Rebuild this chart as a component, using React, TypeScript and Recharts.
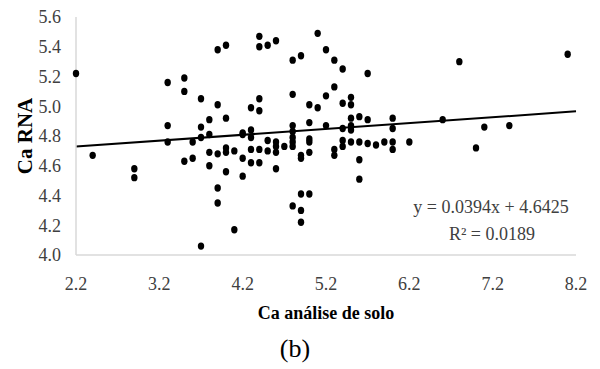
import { ScatterChart, Scatter, XAxis, YAxis, ReferenceLine } from 'recharts';

// Ca from soil analysis (x) and Ca estimated by RNA (y)
const soilCa = [
  2.2, 2.4, 2.9, 2.9,
  3.3, 3.3, 3.3, 3.5, 3.5, 3.5, 3.6, 3.6,
  3.7, 3.7, 3.7, 3.7, 3.8, 3.8, 3.8, 3.8,
  3.9, 3.9, 3.9, 3.9, 3.9, 4.0, 4.0, 4.0, 4.0, 4.0,
  4.1, 4.1, 4.2, 4.2, 4.2, 4.2,
  4.3, 4.3, 4.3, 4.3, 4.3, 4.4, 4.4, 4.4, 4.4, 4.4, 4.4,
  4.5, 4.5, 4.5, 4.6, 4.6, 4.6, 4.6, 4.6, 4.7,
  4.8, 4.8, 4.8, 4.8, 4.8, 4.8, 4.8, 4.8,
  4.9, 4.9, 4.9, 4.9, 4.9, 4.9,
  5.0, 5.0, 5.0, 5.0, 5.0, 5.0, 5.1, 5.1,
  5.2, 5.2, 5.2, 5.3, 5.3, 5.3, 5.3,
  5.4, 5.4, 5.4, 5.4, 5.4, 5.5, 5.5, 5.5, 5.5, 5.5, 5.5,
  5.6, 5.6, 5.6, 5.6, 5.7, 5.7, 5.7, 5.8, 5.9,
  6.0, 6.0, 6.0, 6.0, 6.2, 6.6, 6.8, 7.0, 7.1, 7.4, 8.1,
];
const rnaCa = [
  5.22, 4.67, 4.58, 4.52,
  5.16, 4.87, 4.76, 5.19, 5.10, 4.63, 4.76, 4.65,
  5.05, 4.86, 4.79, 4.06, 4.91, 4.81, 4.69, 4.60,
  5.38, 5.01, 4.68, 4.45, 4.35, 5.41, 4.92, 4.72, 4.69, 4.56,
  4.70, 4.17, 4.82, 4.81, 4.65, 4.53,
  4.99, 4.84, 4.79, 4.71, 4.62, 5.47, 5.40, 5.05, 4.97, 4.71, 4.62,
  5.41, 4.77, 4.70, 5.44, 4.76, 4.73, 4.69, 4.58, 4.73,
  5.31, 5.08, 4.87, 4.83, 4.79, 4.76, 4.73, 4.33,
  5.34, 4.67, 4.65, 4.41, 4.30, 4.22,
  5.01, 4.89, 4.78, 4.76, 4.69, 4.41, 5.49, 4.99,
  5.38, 5.07, 4.87, 5.31, 5.13, 4.71, 4.67,
  5.25, 5.02, 4.85, 4.77, 4.73, 5.06, 5.01, 4.92, 4.87, 4.84, 4.76,
  4.93, 4.76, 4.64, 4.51, 5.22, 4.91, 4.75, 4.74, 4.76,
  4.92, 4.85, 4.76, 4.71, 4.76, 4.91, 5.30, 4.72, 4.86, 4.87, 5.35,
];

const xTicks = [2.2, 3.2, 4.2, 5.2, 6.2, 7.2, 8.2];
const yTicks = [4.0, 4.2, 4.4, 4.6, 4.8, 5.0, 5.2, 5.4, 5.6];

// linear trendline shown on the chart
const slope = 0.0394;
const intercept = 4.6425;
const rSquared = 0.0189;

const points = soilCa.map((x, i) => ({ x, y: rnaCa[i] }));

const serif = '"Liberation Serif", "Times New Roman", serif';

const Dot = (props: any) => {
  const { cx, cy } = props;
  if (cx == null || cy == null) return <g />;
  return <ellipse cx={cx} cy={cy} rx={3.2} ry={3.7} fill="#000" />;
};

export default function App() {
  const x0 = xTicks[0];
  const x1 = xTicks[xTicks.length - 1];

  return (
    <div style={{ position: 'absolute', left: 0, top: 0, width: 600, height: 369, background: '#fff' }}>
      <ScatterChart
        width={600}
        height={369}
        margin={{ top: 17, right: 24, left: 16, bottom: 84 }}
      >
        <XAxis
          type="number"
          dataKey="x"
          domain={[x0, x1]}
          ticks={xTicks}
          tickFormatter={(v) => v.toFixed(1)}
          tickLine={false}
          axisLine={{ stroke: '#d9d9d9', strokeWidth: 1.5 }}
          tickMargin={16}
          tick={{ fill: '#404040', fontSize: 18, fontFamily: serif }}
          height={30}
        />
        <YAxis
          type="number"
          dataKey="y"
          domain={[4.0, 5.6]}
          ticks={yTicks}
          tickFormatter={(v) => v.toFixed(1)}
          tickLine={false}
          axisLine={{ stroke: '#d9d9d9', strokeWidth: 1.5 }}
          tickMargin={9}
          tick={{ fill: '#404040', fontSize: 18, fontFamily: serif }}
          width={60}
        />
        <Scatter data={points} fill="#000" shape={Dot} isAnimationActive={false} />
        <ReferenceLine
          segment={[
            { x: x0, y: slope * x0 + intercept },
            { x: x1, y: slope * x1 + intercept },
          ]}
          stroke="#000"
          strokeWidth={2}
        />
      </ScatterChart>
      <svg
        width={600}
        height={369}
        style={{ position: 'absolute', left: 0, top: 0, pointerEvents: 'none' }}
        fontFamily={serif}
      >
        <text
          x={32}
          y={136}
          transform="rotate(-90, 32, 136)"
          textAnchor="middle"
          fontSize={21}
          fontWeight="bold"
          fill="#000"
        >
          Ca RNA
        </text>
        <text x={326} y={319} textAnchor="middle" fontSize={18} fontWeight="bold" fill="#000">
          Ca análise de solo
        </text>
        <text x={295} y={357} textAnchor="middle" fontSize={26} fill="#000">
          (b)
        </text>
        <text x={491} y={213} textAnchor="middle" fontSize={18} fill="#404040">
          {`y = ${slope}x + ${intercept}`}
        </text>
        <text x={492} y={240} textAnchor="middle" fontSize={18} fill="#404040">
          {`R² = ${rSquared}`}
        </text>
      </svg>
    </div>
  );
}
